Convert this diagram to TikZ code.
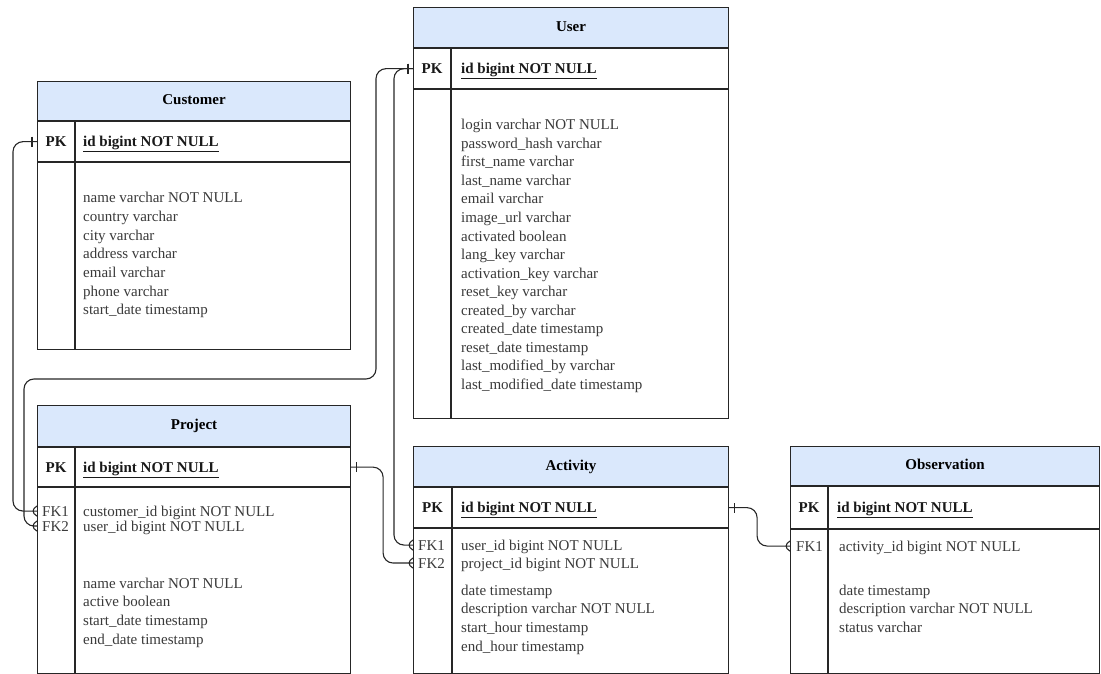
\documentclass[tikz,border=0pt]{standalone}
\usepackage{fontspec}
\setmainfont{Liberation Serif}
\usepackage{tikz}
\usetikzlibrary{positioning}
\usetikzlibrary{decorations.markings}

\definecolor{headblue}{HTML}{DAE8FC}
\definecolor{rulegray}{HTML}{262626}
\definecolor{attrgray}{HTML}{3A3A3A}

\tikzset{
  tbl/.style={draw=rulegray, line width=1.1pt, anchor=north west, inner sep=0pt},
  tblhead/.style={tbl, fill=headblue, text height=10pt, text depth=3pt,
    font=\fontsize{15}{18}\selectfont\bfseries},
  tblrow/.style={tbl, fill=white},
  divider/.style={draw=rulegray, line width=1.1pt},
  keylbl/.style={inner sep=0pt, anchor=base, text=black!90,
    font=\fontsize{15}{18}\selectfont\bfseries},
  fklbl/.style={inner sep=0pt, anchor=base west, text=attrgray,
    font=\fontsize{15}{18}\selectfont},
  attr/.style={inner sep=0pt, anchor=base west, text=attrgray,
    font=\fontsize{15}{18}\selectfont},
  conn/.style={draw=rulegray, line width=1.1pt, rounded corners=10pt},
  onebar/.style={postaction={decorate, decoration={markings,
    mark=at position 5pt with {\draw[line width=1.1pt, rulegray] (0,-5pt) -- (0,5pt);}}}},
  crowfoot/.style={postaction={decorate, decoration={markings,
    mark=at position 1 with {\draw[line width=1.1pt, rulegray] (0,5pt) -- (-9pt,0) -- (0,-5pt);}}}},
}

\begin{document}
\begin{tikzpicture}[x=1pt, y=-1pt]
  \useasboundingbox (0,0) rectangle (1101,674);

  % Customer
  \node at (37,81) (cust) [tblhead, minimum width=313pt, minimum height=39pt] {Customer};
  \node at (cust.south west) (cust-pk) [tblrow, minimum width=313pt, minimum height=40pt] {};
  \node at (cust-pk.south west) (cust-body) [tblrow, minimum width=313pt, minimum height=187pt] {};
  \draw[divider] ([xshift=38pt]cust-pk.north west) -- ([xshift=38pt]cust-body.south west);
  \node at ([xshift=19pt, yshift=-5pt]cust-pk.west) (cust-pkl) [keylbl] {PK};
  \node at ([xshift=46pt, yshift=-5pt]cust-pk.west) (cust-id) [keylbl, anchor=base west] {\underline{id bigint NOT NULL}};
  \foreach \f [count=\i] in {name varchar NOT NULL, country varchar, city varchar, address varchar,
      email varchar, phone varchar, start\_date timestamp}
    \node at (83,{203+(\i-1)*18.6}) (cust-a\i) [attr] {\f};

  % Project
  \node at (37,405) (proj) [tblhead, minimum width=313pt, minimum height=41pt] {Project};
  \node at (proj.south west) (proj-pk) [tblrow, minimum width=313pt, minimum height=39pt] {};
  \node at (proj-pk.south west) (proj-body) [tblrow, minimum width=313pt, minimum height=186pt] {};
  \draw[divider] ([xshift=38pt]proj-pk.north west) -- ([xshift=38pt]proj-body.south west);
  \node at ([xshift=19pt, yshift=-5pt]proj-pk.west) (proj-pkl) [keylbl] {PK};
  \node at ([xshift=46pt, yshift=-5pt]proj-pk.west) (proj-id) [keylbl, anchor=base west] {\underline{id bigint NOT NULL}};
  \node at (42,516) (proj-fk1) [fklbl] {FK1};
  \node at (42,531) (proj-fk2) [fklbl] {FK2};
  \node at (83,516) (proj-f1) [attr] {customer\_id bigint NOT NULL};
  \node at (83,531) (proj-f2) [attr] {user\_id bigint NOT NULL};
  \foreach \f [count=\i] in {name varchar NOT NULL, active boolean, start\_date timestamp, end\_date timestamp}
    \node at (83,{588+(\i-1)*18.8}) (proj-a\i) [attr] {\f};

  % User
  \node at (413,7) (user) [tblhead, minimum width=315pt, minimum height=40pt] {User};
  \node at (user.south west) (user-pk) [tblrow, minimum width=315pt, minimum height=40pt] {};
  \node at (user-pk.south west) (user-body) [tblrow, minimum width=315pt, minimum height=329pt] {};
  \draw[divider] ([xshift=38pt]user-pk.north west) -- ([xshift=38pt]user-body.south west);
  \node at ([xshift=19pt, yshift=-5pt]user-pk.west) (user-pkl) [keylbl] {PK};
  \node at ([xshift=48pt, yshift=-5pt]user-pk.west) (user-id) [keylbl, anchor=base west] {\underline{id bigint NOT NULL}};
  \foreach \f [count=\i] in {login varchar NOT NULL, password\_hash varchar, first\_name varchar,
      last\_name varchar, email varchar, image\_url varchar, activated boolean, lang\_key varchar,
      activation\_key varchar, reset\_key varchar, created\_by varchar, created\_date timestamp,
      reset\_date timestamp, last\_modified\_by varchar, last\_modified\_date timestamp}
    \node at (461,{130+(\i-1)*18.5}) (user-a\i) [attr] {\f};

  % Activity
  \node at (413,446) (act) [tblhead, minimum width=315pt, minimum height=40pt] {Activity};
  \node at (act.south west) (act-pk) [tblrow, minimum width=315pt, minimum height=40pt] {};
  \node at (act-pk.south west) (act-body) [tblrow, minimum width=315pt, minimum height=145pt] {};
  \draw[divider] ([xshift=39pt]act-pk.north west) -- ([xshift=39pt]act-body.south west);
  \node at ([xshift=19.5pt, yshift=-5pt]act-pk.west) (act-pkl) [keylbl] {PK};
  \node at ([xshift=48pt, yshift=-5pt]act-pk.west) (act-id) [keylbl, anchor=base west] {\underline{id bigint NOT NULL}};
  \node at (418,550) (act-fk1) [fklbl] {FK1};
  \node at (418,568) (act-fk2) [fklbl] {FK2};
  \node at (461,550) (act-f1) [attr] {user\_id bigint NOT NULL};
  \node at (461,568) (act-f2) [attr] {project\_id bigint NOT NULL};
  \foreach \f [count=\i] in {date timestamp, description varchar NOT NULL, start\_hour timestamp, end\_hour timestamp}
    \node at (461,{595+(\i-1)*18.7}) (act-a\i) [attr] {\f};

  % Observation
  \node at (790,446) (obs) [tblhead, minimum width=309pt, minimum height=39pt] {Observation};
  \node at (obs.south west) (obs-pk) [tblrow, minimum width=309pt, minimum height=42pt] {};
  \node at (obs-pk.south west) (obs-body) [tblrow, minimum width=309pt, minimum height=144pt] {};
  \draw[divider] ([xshift=38pt]obs-pk.north west) -- ([xshift=38pt]obs-body.south west);
  \node at ([xshift=19pt, yshift=-5pt]obs-pk.west) (obs-pkl) [keylbl] {PK};
  \node at ([xshift=47pt, yshift=-5pt]obs-pk.west) (obs-id) [keylbl, anchor=base west] {\underline{id bigint NOT NULL}};
  \node at (796,551) (obs-fk1) [fklbl] {FK1};
  \node at (839,551) (obs-f1) [attr] {activity\_id bigint NOT NULL};
  \foreach \f [count=\i] in {date timestamp, description varchar NOT NULL, status varchar}
    \node at (839,{595+(\i-1)*18.5}) (obs-a\i) [attr] {\f};

  % Arrows
  \draw[conn, onebar, crowfoot] (cust-pk.west) -- ++(-24,0) |- (proj-body.west |- proj-fk1);
  \draw[conn, onebar, crowfoot] (user-pk.west) -| (376,379)
    -| ([xshift=-13pt]proj-body.west |- proj-fk2) -- (proj-body.west |- proj-fk2);
  \draw[conn, onebar, crowfoot] (user-pk.west) -- ++(-19,0) |- (act-body.west |- act-fk1);
  \draw[conn, onebar, crowfoot] (proj-pk.east) -- ++(32,0) |- (act-body.west |- act-fk2);
  \draw[conn, onebar, crowfoot] (act-pk.east) -- ++(28,0) |- (obs-body.west |- obs-fk1);

\end{tikzpicture}
\end{document}
